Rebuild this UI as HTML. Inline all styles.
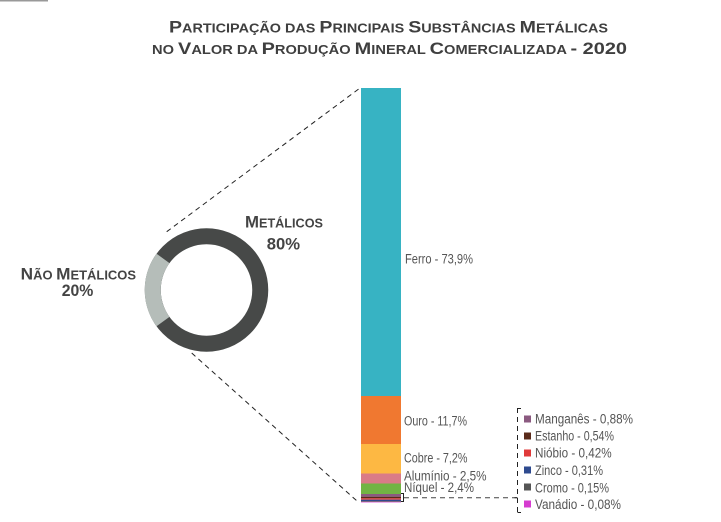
<!DOCTYPE html>
<html>
<head>
<meta charset="utf-8">
<style>
html,body{margin:0;padding:0;background:#fff;}
svg{display:block;}
text{font-family:"Liberation Sans",sans-serif;}
</style>
</head>
<body>
<svg width="721" height="522" viewBox="0 0 721 522" xmlns="http://www.w3.org/2000/svg">
<rect width="721" height="522" fill="#fff"/>
<!-- top-left artifact -->
<rect x="0" y="0" width="48" height="1.5" fill="#555" opacity="0.6"/>

<!-- Title -->
<text x="169" y="32.3" font-size="17" font-weight="bold" fill="#3f3f3f" textLength="439" lengthAdjust="spacingAndGlyphs">P<tspan font-size="12.5">ARTICIPAÇÃO DAS </tspan>P<tspan font-size="12.5">RINCIPAIS </tspan>S<tspan font-size="12.5">UBSTÂNCIAS </tspan>M<tspan font-size="12.5">ETÁLICAS</tspan></text>
<text x="152" y="54" font-size="17" font-weight="bold" fill="#3f3f3f" textLength="475" lengthAdjust="spacingAndGlyphs"><tspan font-size="12.5">NO </tspan>V<tspan font-size="12.5">ALOR DA </tspan>P<tspan font-size="12.5">RODUÇÃO </tspan>M<tspan font-size="12.5">INERAL </tspan>C<tspan font-size="12.5">OMERCIALIZADA </tspan>- 2020</text>

<!-- Donut -->
<circle cx="206.5" cy="290" r="53.75" fill="none" stroke="#474948" stroke-width="16"/>
<path d="M 163.0 321.6 A 53.75 53.75 0 0 1 163.0 258.4" fill="none" stroke="#b5bdb9" stroke-width="16"/>

<!-- Donut labels -->
<text x="245" y="227.3" font-size="17" font-weight="bold" fill="#444" textLength="78" lengthAdjust="spacingAndGlyphs">M<tspan font-size="12.8">ETÁLICOS</tspan></text>
<text x="266.7" y="249.3" font-size="17" font-weight="bold" fill="#444" textLength="33.3" lengthAdjust="spacingAndGlyphs">80%</text>
<text x="20.7" y="279.3" font-size="17" font-weight="bold" fill="#444" textLength="115.3" lengthAdjust="spacingAndGlyphs">N<tspan font-size="12.8">ÃO </tspan>M<tspan font-size="12.8">ETÁLICOS</tspan></text>
<text x="61.7" y="296" font-size="17" font-weight="bold" fill="#444" textLength="31.6" lengthAdjust="spacingAndGlyphs">20%</text>

<!-- Dashed connector lines -->
<line x1="166.7" y1="231.7" x2="360" y2="88" stroke="#222" stroke-width="1" stroke-dasharray="5,4"/>
<line x1="191.7" y1="353" x2="357" y2="501" stroke="#222" stroke-width="1" stroke-dasharray="5,4"/>

<!-- Stacked bar -->
<rect x="361" y="88" width="40" height="308" fill="#37b3c3"/>
<rect x="361" y="396" width="40" height="48" fill="#f07830"/>
<rect x="361" y="444" width="40" height="29.5" fill="#fdb843"/>
<rect x="361" y="473.5" width="40" height="10" fill="#da7b87"/>
<rect x="361" y="483.5" width="40" height="10.5" fill="#72b443"/>
<rect x="361" y="494" width="40" height="2.7" fill="#8b5a80"/>
<rect x="361" y="496.7" width="40" height="1.6" fill="#5a2a1a"/>
<rect x="361" y="498.3" width="40" height="1.4" fill="#e03a3a"/>
<rect x="361" y="499.7" width="40" height="1.3" fill="#2e4a8f"/>
<rect x="361" y="501" width="40" height="0.8" fill="#555"/>
<rect x="361" y="501.8" width="40" height="0.6" fill="#d63cd0"/>

<!-- Bar labels -->
<text x="405" y="263.3" font-size="13.5" fill="#555" textLength="68" lengthAdjust="spacingAndGlyphs">Ferro - 73,9%</text>
<text x="404" y="425.7" font-size="13.5" fill="#555" textLength="63" lengthAdjust="spacingAndGlyphs">Ouro - 11,7%</text>
<text x="404" y="462.3" font-size="13.5" fill="#555" textLength="63.5" lengthAdjust="spacingAndGlyphs">Cobre - 7,2%</text>
<text x="404" y="480.7" font-size="13.5" fill="#555" textLength="82.5" lengthAdjust="spacingAndGlyphs">Alumínio - 2,5%</text>
<text x="404" y="491.8" font-size="13.5" fill="#555" textLength="70" lengthAdjust="spacingAndGlyphs">Níquel - 2,4%</text>

<!-- small bracket near bar -->
<path d="M 401 493.5 H 403.5 V 501.5 H 401" fill="none" stroke="#222" stroke-width="1"/>
<line x1="404" y1="497.7" x2="517" y2="497.7" stroke="#444" stroke-width="1" stroke-dasharray="5,4"/>

<!-- Legend bracket -->
<line x1="517.5" y1="408" x2="517.5" y2="513" stroke="#222" stroke-width="1" stroke-dasharray="5,4"/>
<line x1="517.5" y1="408.5" x2="521" y2="408.5" stroke="#222" stroke-width="1"/>
<line x1="517.5" y1="512.5" x2="521" y2="512.5" stroke="#222" stroke-width="1"/>
<line x1="514.5" y1="497.7" x2="517.5" y2="497.7" stroke="#222" stroke-width="1"/>

<!-- Legend -->
<rect x="524" y="415.5" width="7" height="7" fill="#8b5a80"/>
<text x="535" y="423.3" font-size="13.5" fill="#555" textLength="98" lengthAdjust="spacingAndGlyphs">Manganês - 0,88%</text>
<rect x="524" y="432.5" width="7" height="7" fill="#5a2a1a"/>
<text x="535" y="440.7" font-size="13.5" fill="#555" textLength="79" lengthAdjust="spacingAndGlyphs">Estanho - 0,54%</text>
<rect x="524" y="449.5" width="7" height="7" fill="#e03a3a"/>
<text x="535" y="457.7" font-size="13.5" fill="#555" textLength="76.7" lengthAdjust="spacingAndGlyphs">Nióbio - 0,42%</text>
<rect x="524" y="466.5" width="7" height="7" fill="#2e4a8f"/>
<text x="535" y="475" font-size="13.5" fill="#555" textLength="68" lengthAdjust="spacingAndGlyphs">Zinco - 0,31%</text>
<rect x="524" y="483.5" width="7" height="7" fill="#555"/>
<text x="535" y="492.3" font-size="13.5" fill="#555" textLength="74" lengthAdjust="spacingAndGlyphs">Cromo - 0,15%</text>
<rect x="524" y="500.5" width="7" height="7" fill="#d63cd0"/>
<text x="535" y="509" font-size="13.5" fill="#555" textLength="86" lengthAdjust="spacingAndGlyphs">Vanádio - 0,08%</text>
</svg>
</body>
</html>
